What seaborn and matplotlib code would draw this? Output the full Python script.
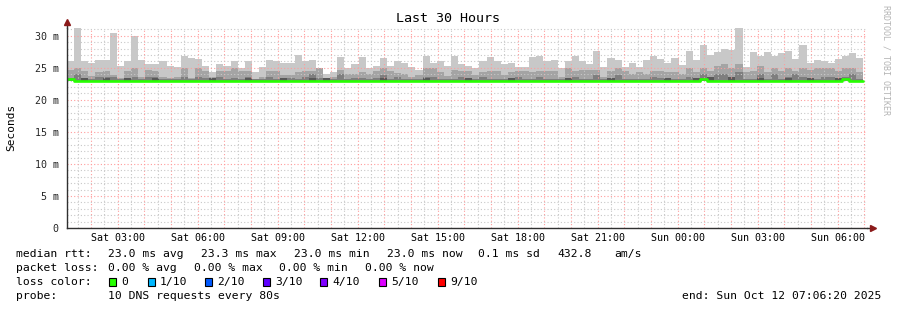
import numpy as np
import pandas as pd
import matplotlib
matplotlib.use("Agg")
import matplotlib.pyplot as plt
from matplotlib.patches import Rectangle
import seaborn as sns

# ---------------- data ----------------
title = "Last 30 Hours"
y_label = "Seconds"
watermark = "RRDTOOL / TOBI OETIKER"
start_clock_h = 1 + 6 / 60 + 20 / 3600      # Sat 01:06:20
span_hours = 30
step_minutes = 16
tick_clock_h = [3, 6, 9, 12, 15, 18, 21, 24, 27, 30]
tick_labels = ["Sat 03:00", "Sat 06:00", "Sat 09:00", "Sat 12:00", "Sat 15:00",
               "Sat 18:00", "Sat 21:00", "Sun 00:00", "Sun 03:00", "Sun 06:00"]
y_ticks = [0, 5, 10, 15, 20, 25, 30]
y_tick_labels = ["0", "5 m", "10 m", "15 m", "20 m", "25 m", "30 m"]

# smoke layers (ms): outer (lightest) -> inner (darkest)
smoke_top = [
    26.0, 31.3, 26.0, 25.7, 26.25, 26.25, 30.5, 25.3, 26.0, 30.0,
    26.25, 25.6, 25.6, 26.0, 25.3, 25.1, 26.8, 26.6, 26.4, 25.3,
    24.3, 25.6, 25.3, 26.0, 25.0, 26.1, 24.4, 25.2, 26.25, 26.0,
    25.8, 25.7, 27.0, 26.0, 26.25, 25.0, 24.1, 24.4, 26.7, 25.0,
    25.6, 26.7, 25.0, 25.3, 26.5, 25.3, 26.0, 25.8, 25.1, 24.7,
    26.8, 25.8, 26.1, 25.3,
    26.8, 25.6, 25.3, 25.0, 26.1, 26.7, 26.0, 25.6, 25.7, 25.2,
    25.2, 26.7, 26.8, 26.1, 26.25, 25.0, 26.1, 26.8, 26.0, 25.6,
    27.7, 25.2, 26.6, 26.25, 25.2, 25.8, 25.2, 26.25, 26.8, 26.4,
    25.7, 26.5, 25.5, 27.7, 26.25, 28.6, 27.0, 27.5, 27.9, 27.8,
    31.2, 25.2, 27.4, 26.8, 27.4, 26.8, 27.3, 27.7, 26.4, 28.6,
    25.8, 26.25, 26.0, 25.8, 26.4, 26.9, 27.3, 26.6]
smoke_mid = [
    24.7, 24.95, 24.5, 23.75, 24.3, 24.45, 23.9, 23.4, 24.45, 24.95,
    23.65, 24.7, 24.45, 23.65, 23.4, 23.65, 24.95, 23.4, 24.95, 24.45,
    23.65, 24.45, 24.45, 24.95, 24.45, 24.45, 23.3, 23.65, 24.55, 24.45,
    23.9, 23.9, 24.3, 24.45, 24.45, 24.95, 23.4, 23.65, 24.7, 24.05,
    24.05, 24.3, 24.05, 24.45, 24.95, 24.45, 24.2, 24.05, 23.65, 23.9,
    24.95, 24.95, 24.3, 23.75,
    24.7, 24.45, 24.45, 23.9, 24.3, 24.45, 24.45, 23.9, 24.3, 24.45,
    24.45, 24.3, 24.45, 24.45, 24.45, 23.65, 24.95, 24.45, 24.6, 24.6,
    24.7, 23.65, 24.45, 24.95, 24.45, 24.05, 24.3, 24.05, 24.45, 24.45,
    24.3, 24.3, 24.05, 24.95, 24.3, 24.95, 24.5, 25.3, 25.6, 25.0,
    25.6, 24.3, 24.45, 25.3, 24.3, 25.0, 24.45, 25.0, 24.45, 24.95,
    24.6, 24.95, 24.95, 24.95, 24.45, 25.0, 24.95, 24.3]
smoke_dark = [
    23.4, 24.1, 23.4, 23.3, 23.5, 23.6, 23.6, 23.2, 23.4, 23.6,
    23.3, 23.6, 23.5, 23.3, 23.3, 23.3, 23.6, 23.3, 23.6, 23.4,
    23.3, 23.6, 23.3, 23.4, 23.3, 23.6, 23.2, 23.3, 23.6, 23.3,
    23.4, 23.4, 23.3, 23.6, 24.0, 23.4, 23.2, 23.3, 24.0, 23.3,
    23.4, 23.4, 23.3, 23.4, 23.9, 23.3, 23.6, 23.3, 23.3, 23.3,
    23.6, 23.6, 23.3, 23.3,
    23.3, 23.6, 23.3, 23.3, 23.6, 23.3, 23.3, 23.3, 23.3, 23.6,
    23.3, 23.3, 23.6, 23.3, 23.3, 23.3, 23.3, 23.6, 23.3, 23.3,
    23.9, 23.3, 23.3, 23.9, 23.3, 23.3, 23.3, 23.3, 23.6, 23.4,
    23.3, 23.3, 23.3, 23.6, 23.3, 24.1, 23.6, 24.0, 24.1, 23.6,
    24.4, 23.3, 23.3, 24.1, 23.3, 24.0, 23.3, 23.6, 24.0, 23.6,
    23.3, 23.3, 23.6, 23.6, 23.3, 23.6, 24.1, 23.3]
smoke_core = [
    23.0, 23.0, 23.4, 23.0, 23.0, 23.4, 23.0, 23.0, 23.4, 23.0,
    23.0, 23.0, 23.4, 23.0, 23.0, 23.0, 23.0, 23.0, 23.0, 23.0,
    23.4, 23.0, 23.0, 23.0, 23.0, 23.4, 23.0, 23.0, 23.0, 23.0,
    23.4, 23.0, 23.0, 23.0, 23.4, 23.0, 23.4, 23.0, 23.0, 23.0,
    23.0, 23.0, 23.0, 23.0, 23.4, 23.0, 23.0, 23.0, 23.0, 23.0,
    23.4, 23.0, 23.0, 23.0, 23.0, 23.0, 23.4, 23.0, 23.0, 23.0,
    23.0, 23.0, 23.4, 23.0, 23.0, 23.0, 23.0, 23.0, 23.0, 23.0,
    23.4, 23.0, 23.0, 23.0, 23.0, 23.0, 23.4, 23.0, 23.0, 23.0,
    23.0, 23.0, 23.0, 23.0, 23.4, 23.0, 23.0, 23.0, 23.4, 23.0,
    23.5, 23.0, 23.0, 23.5, 23.0, 23.0, 23.0, 23.4, 23.0, 23.0,
    23.0, 23.4, 23.0, 23.0, 23.4, 23.0, 23.0, 23.0, 23.4, 23.0,
    23.0, 23.0]
median_rtt = [
    23.3, 23.0, 23.0, 23.0, 23.0, 23.0, 23.0, 23.0, 23.0, 23.0,
    23.0, 23.0, 23.0, 23.0, 23.0, 23.0, 23.0, 23.0, 23.0, 23.0,
    23.0, 23.0, 23.0, 23.0, 23.0, 23.0, 23.0, 23.0, 23.0, 23.0,
    23.0, 23.0, 23.0, 23.0, 23.0, 23.0, 23.0, 23.0, 23.0, 23.0,
    23.0, 23.0, 23.0, 23.0, 23.0, 23.0, 23.0, 23.0, 23.0, 23.0,
    23.0, 23.0, 23.0, 23.0, 23.0, 23.0, 23.0, 23.0, 23.0, 23.0,
    23.0, 23.0, 23.0, 23.0, 23.0, 23.0, 23.0, 23.0, 23.0, 23.0,
    23.0, 23.0, 23.0, 23.0, 23.0, 23.0, 23.0, 23.0, 23.0, 23.0,
    23.0, 23.0, 23.0, 23.0, 23.0, 23.0, 23.0, 23.0, 23.0, 23.3,
    23.0, 23.0, 23.0, 23.0, 23.0, 23.0, 23.0, 23.0, 23.0, 23.0,
    23.0, 23.0, 23.0, 23.0, 23.0, 23.0, 23.0, 23.0, 23.0, 23.3,
    23.0, 23.0]

legend_lines = [
    [(16, "median rtt:"), (108, "23.0 ms avg"), (201, "23.3 ms max"), (294, "23.0 ms min"),
     (387, "23.0 ms now"), (478, "0.1 ms sd"), (557, "432.8"), (614, "am/s")],
    [(16, "packet loss:"), (108, "0.00 % avg"), (194, "0.00 % max"), (279, "0.00 % min"),
     (365, "0.00 % now")],
    [(16, "loss color:")],
    [(16, "probe:"), (108, "10 DNS requests every 80s")],
]
legend_y = [254, 268, 282, 296]
loss_labels = ["0", "1/10", "2/10", "3/10", "4/10", "5/10", "9/10"]
loss_colors = ["#26ff00", "#00b8ff", "#0059ff", "#5e00ff", "#7e00ff", "#dd00ff", "#ff0000"]
loss_x = [108, 147, 204, 262, 319, 378, 437]
end_text = "end: Sun Oct 12 07:06:20 2025"

# ---------------- figure ----------------
W, H = 897, 310
sns.set_style("white")
plt.rcParams["font.family"] = ["DejaVu Sans Mono", "DejaVu Sans"]

fig = plt.figure(figsize=(W / 100, H / 100), dpi=100)
fig.patch.set_facecolor("white")
ax = fig.add_axes([67 / W, (H - 228) / H, 800 / W, (228 - 27.5) / H])

step_h = step_minutes / 60
df = pd.DataFrame({"top": smoke_top, "mid": smoke_mid, "dark": smoke_dark,
                   "core": smoke_core, "median": median_rtt})
df["t"] = np.arange(len(df)) * step_h
base = float(np.min(median_rtt))

for col, color in [("top", "#c8c8c8"), ("mid", "#a4a4a4"), ("dark", "#7e7e7e"), ("core", "#585858")]:
    ax.bar(df["t"], df[col] - base, bottom=base, width=step_h, align="edge",
           color=color, linewidth=0, zorder=1)

# median line (loss colour = 0)
med_x = np.append(df["t"].values, df["t"].values[-1] + step_h)
med_y = np.append(df["median"].values, df["median"].values[-1])
sns.lineplot(x=med_x, y=med_y, ax=ax, drawstyle="steps-post", color="#26ff00",
             linewidth=1.9, estimator=None, sort=False, zorder=5)

# axes scaling
ax.set_xlim(0, span_hours)
ax.set_ylim(0, 31.3)

first_hour = int(np.ceil(start_clock_h))
hour_pos = [h - start_clock_h for h in range(first_hour, int(start_clock_h + span_hours) + 1)]
half_pos = [h + 0.5 - start_clock_h for h in range(first_hour - 1, int(start_clock_h + span_hours) + 1)
            if 0 <= h + 0.5 - start_clock_h <= span_hours]
tick_pos = [c - start_clock_h for c in tick_clock_h]
ax.set_xticks(hour_pos)
ax.set_xticklabels(["" for _ in hour_pos])
ax.set_xticks(half_pos, minor=True)
for p, lab in zip(tick_pos, tick_labels):
    ax.text(p, -0.05, lab, transform=ax.get_xaxis_transform(), ha="center", va="center",
            fontsize=7.2, color="#000000")

ax.set_yticks(y_ticks)
ax.set_yticklabels(y_tick_labels, fontsize=7.2)
ax.set_yticks(np.arange(0, 32, 1), minor=True)

ax.grid(which="major", color="#ff9c9c", linestyle=(0, (1, 2)), linewidth=0.8, zorder=3)
ax.grid(which="minor", color="#c8c8c8", linestyle=(0, (1, 2)), linewidth=0.8, zorder=2)
ax.set_axisbelow(False)

ax.tick_params(axis="both", which="both", length=2, width=0.8, color="#404040",
               direction="out", pad=4)
ax.tick_params(axis="y", which="minor", length=0)
ax.tick_params(axis="x", which="minor", length=2)

for s in ["top", "right"]:
    ax.spines[s].set_visible(False)
for s in ["left", "bottom"]:
    ax.spines[s].set_color("#303030")
    ax.spines[s].set_linewidth(1.0)
    ax.spines[s].set_zorder(6)

# axis extensions with arrow heads
ax.plot([0, 0], [1.0, 1.025], transform=ax.transAxes, color="#303030", lw=1.0, clip_on=False)
ax.plot([1.0, 1.005], [0, 0], transform=ax.transAxes, color="#303030", lw=1.0, clip_on=False)
ax.plot([0], [1.025], marker="^", markersize=4.5, color="#8b1a1a", transform=ax.transAxes,
        clip_on=False, zorder=7)
ax.plot([1.007], [0], marker=">", markersize=4.5, color="#8b1a1a", transform=ax.transAxes,
        clip_on=False, zorder=7)

ax.set_xlabel("")
ax.set_ylabel("")

# texts in pixel coordinates
def fx(x):
    return x / W

def fy(y):
    return 1 - y / H

fig.text(fx(448), fy(19), title, ha="center", va="center", fontsize=9.6, color="#000000")
fig.text(fx(11), fy(127), y_label, rotation=90, ha="center", va="center", fontsize=8, color="#000000")
fig.text(fx(886), fy(60), watermark, rotation=270, ha="center", va="center", fontsize=6,
         color="#b4b4b4")

for line, yy in zip(legend_lines, legend_y):
    for xx, txt in line:
        fig.text(fx(xx), fy(yy), txt, ha="left", va="center", fontsize=8.2, color="#000000")

for xx, lab, colr in zip(loss_x, loss_labels, loss_colors):
    fig.patches.append(Rectangle((fx(xx + 1), fy(286)), 7 / W, 8 / H, transform=fig.transFigure,
                                 facecolor=colr, edgecolor="#000000", linewidth=0.8))
    fig.text(fx(xx + 13), fy(282), lab, ha="left", va="center", fontsize=8.2, color="#000000")

fig.text(fx(881), fy(296), end_text, ha="right", va="center", fontsize=8.2, color="#000000")

fig.savefig("out.png", dpi=100, facecolor="white")
